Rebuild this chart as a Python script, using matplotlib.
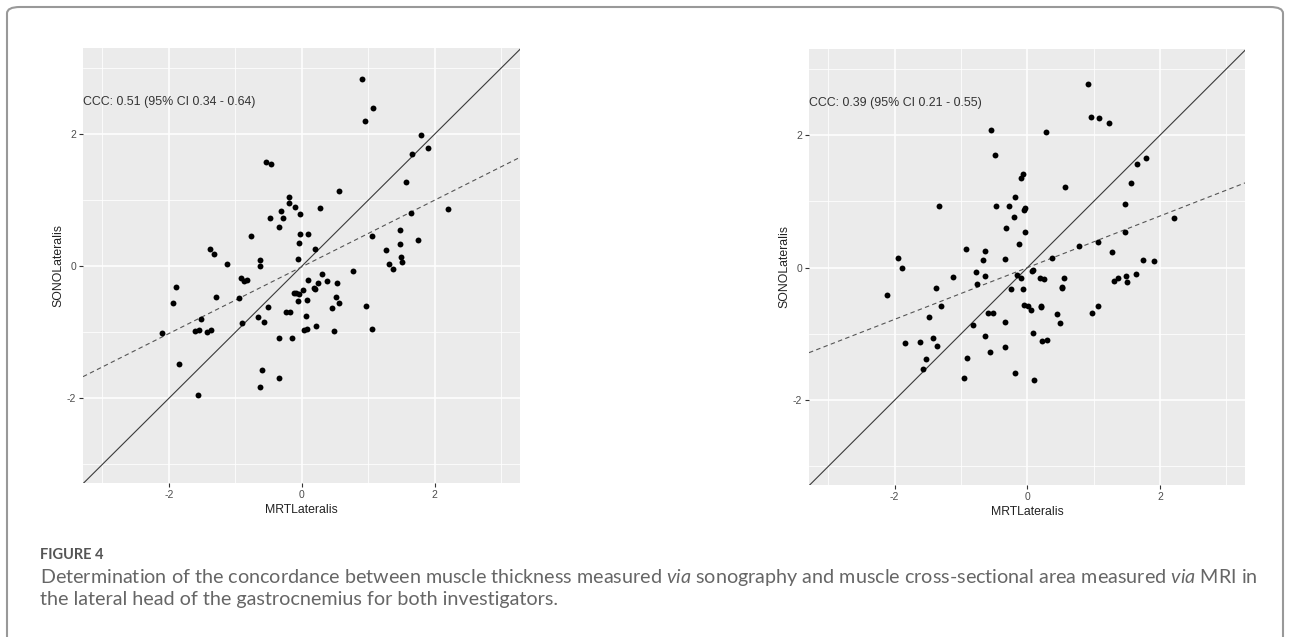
import matplotlib
matplotlib.use("Agg")
import matplotlib.pyplot as plt
from matplotlib.patches import FancyBboxPatch
from matplotlib.ticker import MultipleLocator

# --- data ---
left_x = [0.90, 1.075, 0.955, 1.79, 1.90, 1.65, -0.54, -0.465, 1.56, 0.565,
          -0.19, -0.20, -0.10, 0.275, 2.20, -0.315, -0.035, 1.635, -0.48, -0.28,
          -0.34, 1.475, -0.035, 0.09, -0.77, 1.055, 1.74, -0.045, 1.475, -1.375,
          0.205, -1.325, 1.27, 1.485, 1.50, 1.31, 1.37, -1.12, -0.63, -0.06,
          -0.63, 0.77, 0.30, -0.92, -0.865, -0.825, 0.10, 0.38, 0.25, 0.525,
          -1.89, 0.025, 0.20, 0.19, -0.125, -0.085, -0.045, -1.295, -0.945, 0.515,
          -0.06, 0.08, -1.94, 0.555, 0.97, 0.455, -0.515, -0.24, -0.175, -0.665,
          0.065, -1.52, -0.565, -0.905, 0.21, 1.055, -1.61, -1.55, -1.425, -1.36,
          0.03, 0.08, 0.485, -2.10, -0.34, -0.155, -1.84, -0.595, -0.34, -0.63,
          -1.565]
left_y = [2.83, 2.39, 2.19, 1.98, 1.78, 1.69, 1.58, 1.55, 1.27, 1.14,
          1.045, 0.955, 0.895, 0.88, 0.87, 0.83, 0.79, 0.80, 0.73, 0.73,
          0.59, 0.54, 0.48, 0.49, 0.45, 0.45, 0.40, 0.35, 0.34, 0.26,
          0.26, 0.19, 0.24, 0.14, 0.06, 0.03, -0.045, 0.04, 0.095, 0.11,
          0.005, -0.08, -0.12, -0.18, -0.23, -0.21, -0.21, -0.23, -0.26, -0.26,
          -0.32, -0.36, -0.34, -0.33, -0.41, -0.41, -0.42, -0.47, -0.48, -0.46,
          -0.53, -0.51, -0.55, -0.56, -0.61, -0.64, -0.62, -0.69, -0.70, -0.77,
          -0.76, -0.80, -0.84, -0.86, -0.90, -0.95, -0.98, -0.965, -1.0, -0.965,
          -0.965, -0.95, -0.98, -1.015, -1.08, -1.08, -1.48, -1.57, -1.69, -1.83,
          -1.955]

right_x = [0.907, 0.952, 1.083, 1.233, -0.541, 0.276, -0.481, 1.789, 1.649, -0.065,
           -0.10, 1.564, 0.566, -0.19, -1.328, -0.471, -0.276, -0.04, -0.05, 1.474,
           -0.206, 2.205, -0.321, -0.04, 1.474, -0.125, 1.058, 0.772, -0.922, -0.632,
           1.273, -1.945, -0.667, -0.341, 0.376, 1.739, 1.905, -1.895, 0.085, 0.075,
           -0.772, -1.123, -0.632, -0.155, -0.09, 0.185, 0.251, 0.556, 1.489, 1.639,
           1.373, 1.313, 1.499, -0.762, -1.373, -0.241, -0.065, 0.516, 0.526, -2.11,
           -1.303, -0.055, 0.015, 0.055, 0.20, 0.20, 1.058, -0.596, -0.521, 0.451,
           0.972, -1.489, -0.341, -0.812, 0.491, 0.08, -0.632, -1.429, 0.30, 0.216,
           -1.84, -1.614, -1.363, -0.341, -0.566, -0.907, -1.529, -1.569, -0.18, -0.947,
           0.095]
right_y = [2.775, 2.275, 2.26, 2.185, 2.085, 2.045, 1.705, 1.655, 1.565, 1.415,
           1.35, 1.275, 1.215, 1.065, 0.925, 0.935, 0.925, 0.90, 0.865, 0.965,
           0.76, 0.745, 0.595, 0.545, 0.535, 0.36, 0.385, 0.33, 0.28, 0.255,
           0.23, 0.145, 0.12, 0.13, 0.145, 0.12, 0.105, -0.005, -0.035, -0.045,
           -0.06, -0.135, -0.12, -0.11, -0.155, -0.155, -0.17, -0.16, -0.12, -0.095,
           -0.155, -0.195, -0.21, -0.25, -0.31, -0.32, -0.325, -0.285, -0.31, -0.41,
           -0.575, -0.56, -0.575, -0.645, -0.585, -0.60, -0.575, -0.685, -0.685, -0.70,
           -0.685, -0.75, -0.825, -0.86, -0.84, -0.98, -1.03, -1.065, -1.09, -1.105,
           -1.14, -1.115, -1.18, -1.19, -1.275, -1.37, -1.38, -1.535, -1.595, -1.67,
           -1.695]

labels = ["CCC: 0.51 (95% CI 0.34 - 0.64)", "CCC: 0.39 (95% CI 0.21 - 0.55)"]
fit_slope = [0.505, 0.39]
fit_intercept = [-0.01, 0.0]
major_ticks = [-2, 0, 2]

W, H = 1290, 637
fig = plt.figure(figsize=(W / 100, H / 100), dpi=100)
plt.rcParams['font.family'] = ['Liberation Sans', 'DejaVu Sans']

# axes boxes in pixels: left, top, right, bottom
boxes = [(83, 48, 520, 483), (809, 49, 1245, 485)]
panels = [(left_x, left_y), (right_x, right_y)]

for i, (x, y) in enumerate(panels):
    l, t, r, b = boxes[i]
    ax = fig.add_axes([l / W, 1 - b / H, (r - l) / W, (b - t) / H])
    ax.set_facecolor('#EBEBEB')
    ax.set_xlim(-3.29, 3.28)
    ax.set_ylim(-3.28, 3.30)
    ax.xaxis.set_minor_locator(MultipleLocator(1))
    ax.yaxis.set_minor_locator(MultipleLocator(1))
    ax.set_xticks(major_ticks)
    ax.set_yticks(major_ticks)
    ax.set_xticklabels([str(v) for v in major_ticks])
    ax.set_yticklabels([str(v) for v in major_ticks])
    ax.grid(which='major', color='white', lw=1.1)
    ax.grid(which='minor', color='white', lw=0.55)
    ax.set_axisbelow(True)
    for s in ax.spines.values():
        s.set_visible(False)
    ax.tick_params(which='major', length=3, width=0.8, color='#333333',
                   labelsize=7.5, labelcolor='#4D4D4D', pad=2)
    ax.tick_params(which='minor', length=0)

    ax.axline((0, 0), slope=1, color='#3a3a3a', lw=0.8, zorder=2)
    ax.axline((0, fit_intercept[i]), slope=fit_slope[i], color='#555555',
              lw=0.8, ls=(0, (4, 3)), zorder=2)
    ax.scatter(x, y, s=18, color='black', zorder=3, linewidths=0)
    ax.text(-3.29, 2.49, labels[i], ha='left', va='center', fontsize=8.9,
            color='#333333')
    ax.set_xlabel('MRTLateralis', fontsize=8.8, color='#222222', labelpad=3)
    ax.set_ylabel('SONOLateralis', fontsize=8.8, color='#222222', labelpad=2)

# caption
plt.rcParams['mathtext.fontset'] = 'custom'
plt.rcParams['mathtext.rm'] = 'Lato'
plt.rcParams['mathtext.it'] = 'Lato:italic'
fig.text(40 / W, 1 - 555 / H, 'FIGURE 4', fontsize=10.5, color='#555555',
         family='Lato', weight='bold', va='center')
cap1 = ('Determination of the concordance between muscle thickness measured $\\mathit{via}$ '
        'sonography and muscle cross-sectional area measured $\\mathit{via}$ MRI in')
cap2 = 'the lateral head of the gastrocnemius for both investigators.'
fig.text(40 / W, 1 - 577 / H, cap1, fontsize=14.2, color='#666666',
         family='Lato', va='center')
fig.text(40 / W, 1 - 600 / H, cap2, fontsize=14.2, color='#666666',
         family='Lato', va='center')

# outer frame
frame = FancyBboxPatch((7 / W, -0.05), (1283 - 7) / W, 1 - 7 / H + 0.05,
                       boxstyle='round,pad=0,rounding_size=0.01',
                       transform=fig.transFigure, fill=False,
                       edgecolor='#999999', lw=1.5)
fig.patches.append(frame)

fig.savefig('out.png', dpi=100)
